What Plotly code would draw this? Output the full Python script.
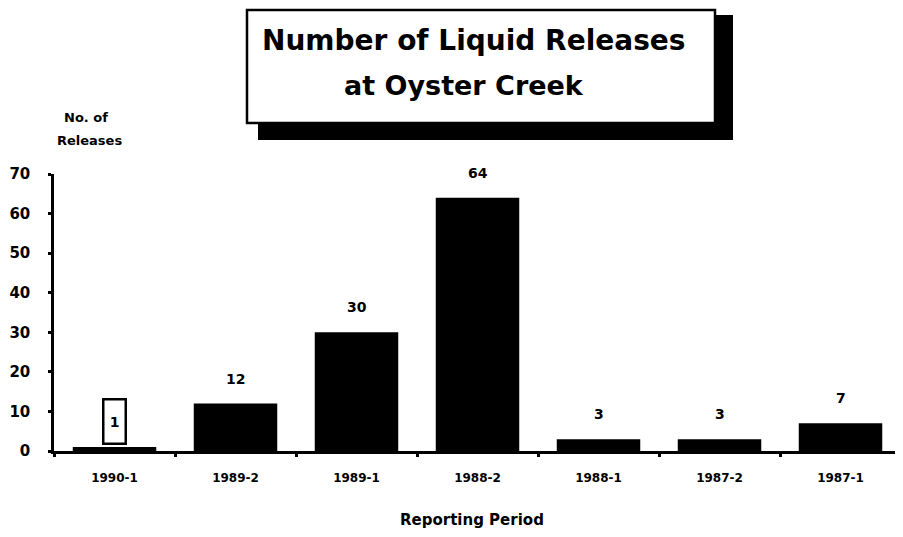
import plotly.graph_objects as go

periods = ["1990-1", "1989-2", "1989-1", "1988-2", "1988-1", "1987-2", "1987-1"]
releases = [1, 12, 30, 64, 3, 3, 7]
y_ticks = [0, 10, 20, 30, 40, 50, 60, 70]

# page body has an 8px margin; work in screen pixels and shift
OFF = 8
W, H = 903 - OFF, 537 - OFF
# plot area in screen pixels
SX0, SX1, SY0, SY1 = 54, 901, 174, 451
L, R = SX0 - OFF, W - (SX1 - OFF)
T, B = SY0 - OFF, H - (SY1 - OFF)
PW, PH = W - L - R, H - T - B

def px(x):
    return (x - SX0) / PW

def py(y):
    return (SY1 - y) / PH

FONT = "DejaVu Sans, Liberation Sans, Arial, sans-serif"

fig = go.Figure()
fig.add_trace(go.Bar(
    x=periods, y=releases, marker=dict(color="black", line=dict(width=0)),
    width=0.69, showlegend=False, hoverinfo="x+y",
))

annotations = []
for p, v in zip(periods, releases):
    if v == 1:
        annotations.append(dict(
            x=p, y=v, xref="x", yref="y", text="<b>1</b>", showarrow=False,
            yanchor="bottom", width=20, height=42, bordercolor="black",
            borderwidth=2.5, bgcolor="white", borderpad=0,
            font=dict(family=FONT, size=14, color="black"), yshift=2,
        ))
    else:
        annotations.append(dict(
            x=p, y=v, xref="x", yref="y", text=f"<b>{v}</b>", showarrow=False,
            yanchor="bottom", yshift=15,
            font=dict(family=FONT, size=14, color="black"),
        ))

annotations += [
    dict(x=px(473), y=py(40), xref="paper", yref="paper", showarrow=False,
         text="<b>Number of Liquid Releases</b>", font=dict(family=FONT, size=28, color="black"),
         xanchor="center", yanchor="middle"),
    dict(x=px(464), y=py(86), xref="paper", yref="paper", showarrow=False,
         text="<b>at Oyster Creek</b>", font=dict(family=FONT, size=27, color="black"),
         xanchor="center", yanchor="middle"),
    dict(x=px(86), y=py(117), xref="paper", yref="paper", showarrow=False,
         text="<b>No. of</b>", font=dict(family=FONT, size=13, color="black"),
         xanchor="center", yanchor="middle"),
    dict(x=px(89), y=py(140), xref="paper", yref="paper", showarrow=False,
         text="<b>Releases</b>", font=dict(family=FONT, size=13, color="black"),
         xanchor="center", yanchor="middle"),
    dict(x=px(472), y=py(520), xref="paper", yref="paper", showarrow=False,
         text="<b>Reporting Period</b>", font=dict(family=FONT, size=15, color="black"),
         xanchor="center", yanchor="middle"),
]

shapes = [
    dict(type="rect", xref="paper", yref="paper", x0=px(258), x1=px(733), y0=py(140), y1=py(15),
         fillcolor="black", line=dict(width=0), layer="above"),
    dict(type="rect", xref="paper", yref="paper", x0=px(247), x1=px(715), y0=py(123), y1=py(10),
         fillcolor="white", line=dict(color="black", width=2.5), layer="above"),
]

fig.update_layout(
    width=W, height=H,
    margin=dict(l=L, r=R, t=T, b=B),
    paper_bgcolor="white", plot_bgcolor="white",
    font=dict(family=FONT, color="black"),
    annotations=annotations, shapes=shapes,
    bargap=0.3,
)
fig.update_xaxes(
    type="category", range=[-0.5, 6.5], showline=True, linecolor="black", linewidth=2.5,
    ticks="outside", ticklen=3, tickwidth=3, tickcolor="black", tickson="boundaries",
    tickfont=dict(family=FONT, size=12, color="black"), ticklabelstandoff=14,
    tickvals=periods, ticktext=[f"<b>{p}</b>" for p in periods],
    showgrid=False, zeroline=False, fixedrange=True,
)
fig.update_yaxes(
    range=[0, 70], showline=True, linecolor="black", linewidth=2.5,
    ticks="outside", ticklen=3, tickwidth=3, tickcolor="black",
    tickvals=y_ticks, ticktext=[f"<b>{t}</b>" for t in y_ticks],
    tickfont=dict(family=FONT, size=15, color="black"), ticklabelstandoff=15,
    showgrid=False, zeroline=False, fixedrange=True,
)

fig.write_html("out.html")
